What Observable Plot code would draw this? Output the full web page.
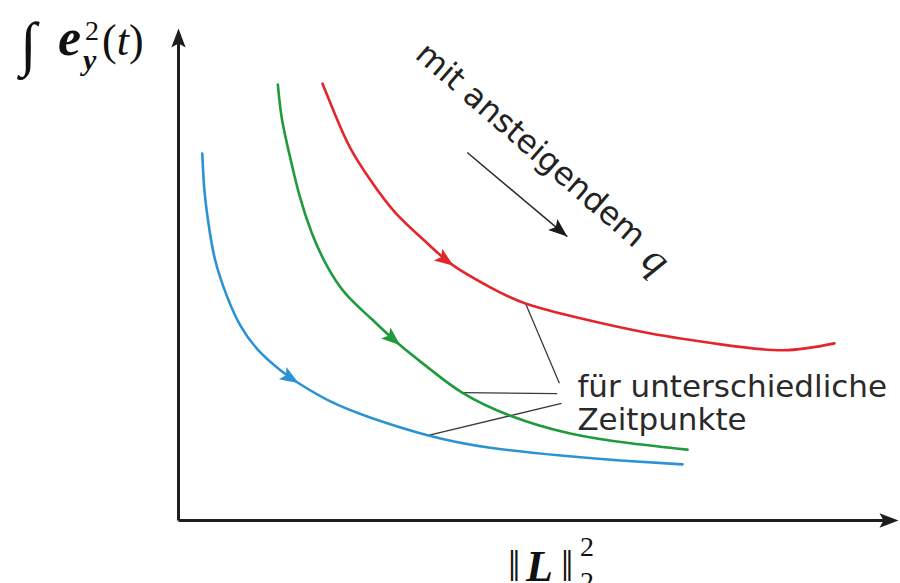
<!DOCTYPE html>
<html>
<head>
<meta charset="utf-8">
<script src="https://cdn.jsdelivr.net/npm/d3@7"></script>
<script src="https://cdn.jsdelivr.net/npm/@observablehq/plot@0.6"></script>
<style>
  html, body { margin: 0; padding: 0; background: #fff; }
  #chart { width: 900px; height: 583px; overflow: hidden; }
</style>
</head>
<body>
<div id="chart"></div>
<script>
// Error integral over the gain norm, one curve per q (arbitrary units).
const blueCurve = [
  [0.33, 7.46], [0.36, 6.71], [0.42, 6.00], [0.51, 5.29], [0.67, 4.57],
  [0.86, 3.96], [1.11, 3.46], [1.42, 3.05], [1.67, 2.79], [2.11, 2.42],
  [2.67, 2.09], [3.47, 1.73], [4.33, 1.48], [5.31, 1.32], [6.14, 1.22],
  [7.00, 1.14]
];
const greenCurve = [
  [1.38, 8.86], [1.44, 8.13], [1.56, 7.32], [1.68, 6.61], [1.85, 5.85],
  [2.06, 5.18], [2.32, 4.61], [2.67, 4.11], [3.08, 3.56], [3.50, 3.07],
  [3.94, 2.60], [4.61, 2.13], [5.44, 1.77], [6.28, 1.57], [7.07, 1.44]
];
const redCurve = [
  [2.00, 8.88], [2.18, 8.23], [2.39, 7.56], [2.67, 6.91], [3.01, 6.26],
  [3.43, 5.67], [3.82, 5.18], [4.33, 4.74], [4.82, 4.41], [5.58, 4.11],
  [6.56, 3.80], [7.53, 3.58], [8.40, 3.46], [9.11, 3.60]
];
// vertex of each curve carrying its direction arrow
const arrowIndex = { blue: 8, green: 8, red: 6 };

// leader lines from the curves to the "Zeitpunkte" label
const leaders = [
  { x1: 4.82, y1: 4.41, x2: 5.29, y2: 2.79 },
  { x1: 3.94, y1: 2.60, x2: 5.26, y2: 2.58 },
  { x1: 3.47, y1: 1.73, x2: 5.32, y2: 2.38 }
];

// "increasing q" arrow
const trendArrow = { from: [4.01, 7.48], to: [5.40, 5.77] };

const trendText = "mit ansteigendem";
const trendTextAt = [4.89, 7.63];
const trendSymbol = "q";
const trendSymbolAt = [6.64, 5.30];

const noteLines = ["für unterschiedliche", "Zeitpunkte"];
const noteX = 5.54;
const noteY = [2.71, 2.04];

const xDomain = [0, 10];
const yDomain = [0, 10];

// ---- layout / style ----
const W = 900, H = 583;
const M = { top: 28, right: 2, bottom: 63, left: 178 };
const colors = { blue: "#2b92d6", green: "#1f9a3c", red: "#e3262b" };
const axisColor = "#1e1e1e";
const sans = "'DejaVu Sans', Verdana, sans-serif";
const serif = "'Liberation Serif', 'DejaVu Serif', serif";

const kx = (W - M.left - M.right) / (xDomain[1] - xDomain[0]);
const ky = (H - M.top - M.bottom) / (yDomain[1] - yDomain[0]);
// screen heading (degrees, clockwise from "up") of the direction a -> b
function heading(a, b) {
  return Math.atan2(-(b[1] - a[1]) * ky, (b[0] - a[0]) * kx) * 180 / Math.PI + 90;
}

// filled arrowhead with its tip at the anchor point, pointing up before rotation
const arrowHead = {
  draw(ctx, size) {
    const r = Math.sqrt(size / Math.PI);
    const len = 1.9 * r, half = 0.72 * r, notch = 0.4 * r;
    ctx.moveTo(0, 0);
    ctx.lineTo(half, len);
    ctx.lineTo(0, len - notch);
    ctx.lineTo(-half, len);
    ctx.closePath();
  }
};

const curves = { blue: blueCurve, green: greenCurve, red: redCurve };
const toRows = (pts) => pts.map(([x, y]) => ({ x, y }));

const curveHeads = Object.entries(curves).map(([name, pts]) => {
  const i = arrowIndex[name];
  return { name, x: pts[i][0], y: pts[i][1], rot: heading(pts[i - 1], pts[i + 1]) };
});

const axisHeads = [
  { x: xDomain[1], y: yDomain[0], rot: heading([0, 0], [1, 0]) },
  { x: xDomain[0], y: yDomain[1], rot: heading([0, 0], [0, 1]) }
];
const trendHead = [{ x: trendArrow.to[0], y: trendArrow.to[1], rot: heading(trendArrow.from, trendArrow.to) }];

const marks = [];

// axes
marks.push(Plot.link([{ x1: xDomain[0], y1: yDomain[0], x2: xDomain[1] - 0.15, y2: yDomain[0] }],
  { x1: "x1", y1: "y1", x2: "x2", y2: "y2", stroke: axisColor, strokeWidth: 3 }));
marks.push(Plot.link([{ x1: xDomain[0], y1: yDomain[0], x2: xDomain[0], y2: yDomain[1] - 0.2 }],
  { x1: "x1", y1: "y1", x2: "x2", y2: "y2", stroke: axisColor, strokeWidth: 3 }));
marks.push(Plot.dot(axisHeads, { x: "x", y: "y", rotate: "rot", symbol: arrowHead, r: 10, fill: axisColor, stroke: "none" }));

// leader lines
marks.push(Plot.link(leaders, { x1: "x1", y1: "y1", x2: "x2", y2: "y2", stroke: "#3a3a3a", strokeWidth: 1.3 }));

// curves with their arrowheads
for (const [name, pts] of Object.entries(curves)) {
  marks.push(Plot.line(toRows(pts), { x: "x", y: "y", stroke: colors[name], strokeWidth: 2.6, curve: "natural" }));
}
for (const h of curveHeads) {
  marks.push(Plot.dot([h], { x: "x", y: "y", rotate: "rot", symbol: arrowHead, r: 10, fill: colors[h.name], stroke: "none" }));
}

// "mit ansteigendem q" arrow and text
marks.push(Plot.link([{ x1: trendArrow.from[0], y1: trendArrow.from[1], x2: trendArrow.to[0], y2: trendArrow.to[1] }],
  { x1: "x1", y1: "y1", x2: "x2", y2: "y2", stroke: "#2a2a2a", strokeWidth: 1.5 }));
marks.push(Plot.dot(trendHead, { x: "x", y: "y", rotate: "rot", symbol: arrowHead, r: 10, fill: "#1a1a1a", stroke: "none" }));
marks.push(Plot.text([{ x: trendTextAt[0], y: trendTextAt[1], t: trendText }],
  { x: "x", y: "y", text: "t", rotate: 41, fontSize: 32, fontFamily: sans, fill: "#222", textAnchor: "middle" }));
marks.push(Plot.text([{ x: trendSymbolAt[0], y: trendSymbolAt[1], t: trendSymbol }],
  { x: "x", y: "y", text: "t", rotate: 41, fontSize: 42, fontFamily: serif, fontStyle: "italic", fill: "#222", textAnchor: "middle" }));

// note text
marks.push(Plot.text(noteLines.map((t, i) => ({ x: noteX, y: noteY[i], t })),
  { x: "x", y: "y", text: "t", fontSize: 31, fontFamily: sans, fill: "#2a2a2a", textAnchor: "start" }));

const chart = Plot.plot({
  width: W,
  height: H,
  marginTop: M.top,
  marginRight: M.right,
  marginBottom: M.bottom,
  marginLeft: M.left,
  x: { domain: xDomain, axis: null },
  y: { domain: yDomain, axis: null },
  style: { background: "#fff", overflow: "visible" },
  marks
});
document.getElementById("chart").append(chart);

// axis titles set as math
const svg = d3.select(chart);
const yl = svg.append("text").attr("text-anchor", "start").attr("font-family", serif)
  .attr("font-size", 44).attr("fill", "#111");
yl.append("tspan").attr("x", 20).attr("y", 64).attr("font-size", 60).text("∫");
yl.append("tspan").attr("x", 58).attr("y", 55).attr("font-size", 52)
  .attr("font-weight", "bold").attr("font-style", "italic").text("e");
yl.append("tspan").attr("x", 85).attr("y", 40).attr("font-size", 28).text("2");
yl.append("tspan").attr("x", 83).attr("y", 70).attr("font-size", 30)
  .attr("font-weight", "bold").attr("font-style", "italic").text("y");
yl.append("tspan").attr("x", 102).attr("y", 55).text("(");
yl.append("tspan").attr("font-style", "italic").text("t");
yl.append("tspan").text(")");

const xl = svg.append("text").attr("text-anchor", "start").attr("font-family", serif)
  .attr("font-size", 44).attr("fill", "#111");
xl.append("tspan").attr("x", 508).attr("y", 581).text("‖");
xl.append("tspan").attr("x", 526).attr("y", 581)
  .attr("font-weight", "bold").attr("font-style", "italic").text("L");
xl.append("tspan").attr("x", 561).attr("y", 581).text("‖");
xl.append("tspan").attr("x", 580).attr("y", 556).attr("font-size", 28).text("2");
xl.append("tspan").attr("x", 580).attr("y", 591).attr("font-size", 28).text("2");
</script>
</body>
</html>
